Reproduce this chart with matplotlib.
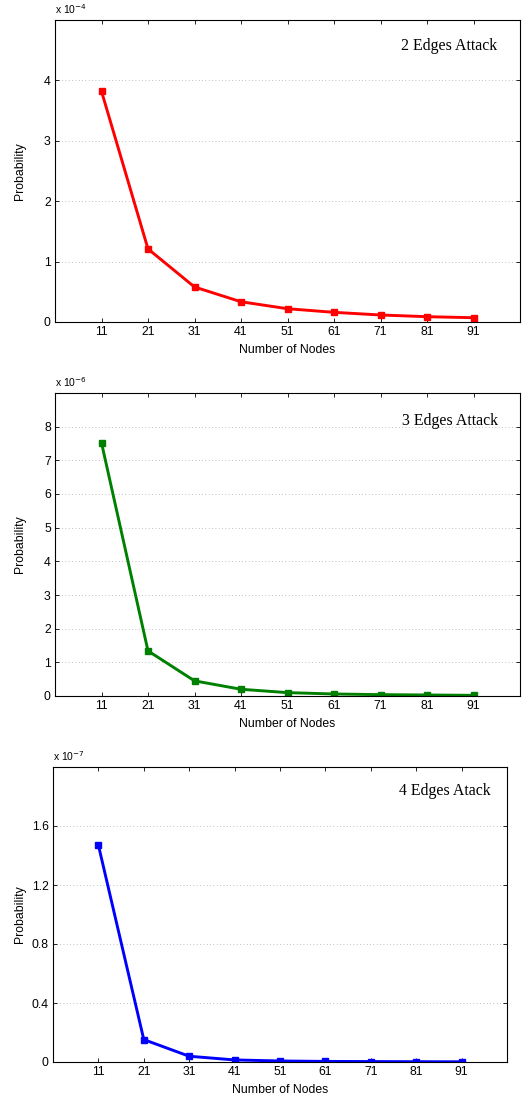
import matplotlib
matplotlib.use("Agg")
import matplotlib.pyplot as plt
import numpy as np

nodes = [11, 21, 31, 41, 51, 61, 71, 81, 91]
p2 = [3.82e-4, 1.21e-4, 0.58e-4, 0.335e-4, 0.22e-4, 0.16e-4, 0.116e-4, 0.088e-4, 0.071e-4]
p3 = [7.52e-6, 1.34e-6, 0.45e-6, 0.20e-6, 0.10e-6, 0.06e-6, 0.04e-6, 0.03e-6, 0.02e-6]
p4 = [1.47e-7, 0.152e-7, 0.039e-7, 0.014e-7, 0.007e-7, 0.004e-7, 0.003e-7, 0.002e-7, 0.0015e-7]
labels = ["2 Edges Attack", "3 Edges Attack", "4 Edges Atack"]
exps = [-4, -6, -7]
yticks_list = [[0, 1, 2, 3, 4], [0, 1, 2, 3, 4, 5, 6, 7, 8], [0, 0.4, 0.8, 1.2, 1.6]]
ytick_labels = [["0", "1", "2", "3", "4"], [str(i) for i in range(9)], ["0", "0.4", "0.8", "1.2", "1.6"]]
ylims = [5, 9, 2]
colors = ["#ff0000", "#008000", "#0000ff"]

W, H = 522, 1099
fig = plt.figure(figsize=(W / 100, H / 100), dpi=100)

# axes boxes in pixels: left, top, right, bottom
boxes = [(55, 20, 520, 322), (55, 393, 520, 696), (53, 767, 507, 1062)]
text_pos = [(0.95, 0.914), (0.953, 0.908), (0.964, 0.918)]
fs = 8.8

for i, (data, lab, e, yt, ytl, yl, c, box, tp) in enumerate(
        zip([p2, p3, p4], labels, exps, yticks_list, ytick_labels, ylims, colors, boxes, text_pos)):
    l, t, r, b = box
    ax = fig.add_axes([l / W, 1 - b / H, (r - l) / W, (b - t) / H])
    vals = np.array(data) / (10.0 ** e)
    ax.plot(nodes, vals, color=c, lw=2.1, marker="s", ms=4.5, mec=c, mfc=c)
    ax.set_xlim(1, 101)
    ax.set_ylim(0, yl)
    ax.set_xticks(nodes)
    ax.set_xticklabels([str(n) for n in nodes], family="Liberation Sans", fontsize=fs)
    ax.set_yticks(yt)
    ax.set_yticklabels(ytl, family="Liberation Sans", fontsize=fs)
    ax.tick_params(direction="in", top=True, right=True, length=3, width=0.6, pad=3)
    ax.yaxis.grid(True, linestyle=(0, (1, 3)), color="#aaaaaa", lw=0.6)
    for s in ax.spines.values():
        s.set_linewidth(0.8)
    ax.set_xlabel("Number of Nodes", family="Liberation Sans", fontsize=fs, va="center")
    ax.xaxis.set_label_coords(0.5, -28.0 / (b - t))
    ax.set_ylabel("Probability", family="Liberation Sans", fontsize=fs, va="center")
    ax.yaxis.set_label_coords((20.0 - l) / (r - l), 0.5)
    ax.text(tp[0], tp[1], lab, transform=ax.transAxes, ha="right", va="center",
            family="Liberation Serif", fontsize=11.4)
    ax.text(0.0, 1.012, "x 10$^{%d}$" % e, transform=ax.transAxes, ha="left", va="bottom",
            family="Liberation Sans", fontsize=7.5)

fig.savefig("out.png", dpi=100)
